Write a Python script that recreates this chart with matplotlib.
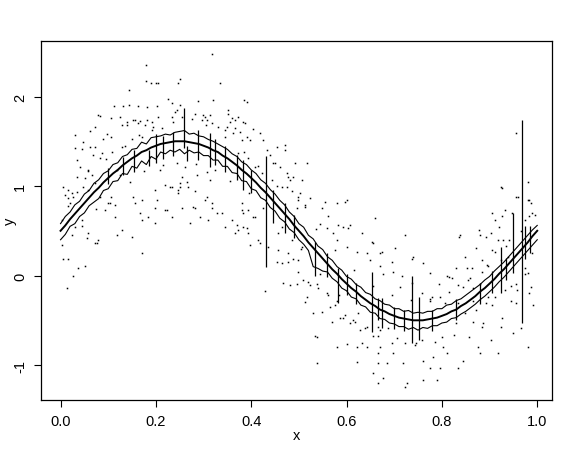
import matplotlib
matplotlib.use("Agg")
from matplotlib import pyplot as plt

plt.rcParams['font.family'] = ['Liberation Sans', 'DejaVu Sans']

# smooth curve, x step 0.01
cx = [i / 100 for i in range(101)]
cy = [0.50, 0.56, 0.63, 0.69, 0.75, 0.81, 0.87, 0.93, 0.98, 1.04,
      1.09, 1.14, 1.18, 1.23, 1.27, 1.31, 1.34, 1.38, 1.40, 1.43,
      1.45, 1.47, 1.48, 1.49, 1.50, 1.50, 1.50, 1.49, 1.48, 1.47,
      1.45, 1.43, 1.40, 1.38, 1.34, 1.31, 1.27, 1.23, 1.18, 1.14,
      1.09, 1.04, 0.98, 0.93, 0.87, 0.81, 0.75, 0.69, 0.63, 0.56,
      0.50, 0.44, 0.37, 0.31, 0.25, 0.19, 0.13, 0.07, 0.02, -0.04,
      -0.09, -0.14, -0.18, -0.23, -0.27, -0.31, -0.34, -0.38, -0.40, -0.43,
      -0.45, -0.47, -0.48, -0.49, -0.50, -0.50, -0.50, -0.49, -0.48, -0.47,
      -0.45, -0.43, -0.40, -0.38, -0.34, -0.31, -0.27, -0.23, -0.18, -0.14,
      -0.09, -0.04, 0.02, 0.07, 0.13, 0.19, 0.25, 0.31, 0.37, 0.44, 0.50]

# jagged upper / lower bands (same x grid)
upper = [0.58, 0.66, 0.71, 0.79, 0.83, 0.91, 0.95, 1.03, 1.07, 1.14,
         1.17, 1.24, 1.26, 1.33, 1.35, 1.41, 1.42, 1.49, 1.47, 1.54,
         1.55, 1.56, 1.58, 1.57, 1.60, 1.61, 1.62, 1.58, 1.59, 1.56,
         1.55, 1.52, 1.50, 1.47, 1.44, 1.41, 1.36, 1.33, 1.27, 1.24,
         1.18, 1.14, 1.07, 1.03, 0.96, 0.91, 0.84, 0.79, 0.71, 0.66,
         0.58, 0.54, 0.45, 0.41, 0.33, 0.29, 0.21, 0.17, 0.10, 0.06,
         -0.01, -0.04, -0.10, -0.13, -0.19, -0.21, -0.26, -0.28, -0.32, -0.33,
         -0.37, -0.37, -0.40, -0.39, -0.42, -0.41, -0.42, -0.40, -0.40, -0.37,
         -0.37, -0.33, -0.32, -0.28, -0.26, -0.22, -0.18, -0.14, -0.10, -0.05,
         -0.01, 0.05, 0.10, 0.15, 0.21, 0.27, 0.33, 0.39, 0.45, 0.51, 0.56]
lower = [0.40, 0.46, 0.55, 0.58, 0.66, 0.70, 0.78, 0.82, 0.86, 0.95,
         0.97, 1.05, 1.06, 1.14, 1.13, 1.22, 1.20, 1.28, 1.24, 1.33,
         1.30, 1.38, 1.36, 1.40, 1.38, 1.41, 1.36, 1.40, 1.37, 1.38,
         1.34, 1.34, 1.29, 1.29, 1.22, 1.22, 1.15, 1.14, 1.06, 1.05,
         0.97, 0.95, 0.87, 0.84, 0.76, 0.72, 0.64, 0.60, 0.52, 0.48,
         0.40, 0.35, 0.28, 0.10, 0.08, 0.05, 0.04, -0.03, -0.07, -0.14,
         -0.17, -0.24, -0.26, -0.33, -0.35, -0.41, -0.42, -0.48, -0.49, -0.53,
         -0.54, -0.57, -0.57, -0.60, -0.58, -0.61, -0.58, -0.59, -0.56, -0.56,
         -0.53, -0.52, -0.48, -0.47, -0.43, -0.40, -0.36, -0.32, -0.27, -0.23,
         -0.18, -0.13, -0.07, -0.02, 0.04, 0.10, 0.16, 0.22, 0.28, 0.34, 0.40]

# spikes in the bands
spike_x = [0.185, 0.26, 0.265, 0.288, 0.314, 0.371, 0.383, 0.432, 0.446, 0.471,
           0.534, 0.583, 0.654, 0.675, 0.738, 0.751, 0.925, 0.950, 0.969,
           0.10, 0.13, 0.155, 0.20, 0.215, 0.235, 0.325, 0.345, 0.40, 0.49,
           0.56, 0.60, 0.62, 0.665, 0.70, 0.72, 0.78, 0.83, 0.88, 0.905,
           0.935, 0.975, 0.985]
spike_lo = [1.22, 1.42, 1.28, 1.29, 1.21, 1.07, 0.96, 0.10, 0.59, 0.47,
            0.00, -0.31, -0.63, -0.59, -0.75, -0.72, -0.20, 0.03, -0.53,
            1.02, 1.12, 1.16, 1.26, 1.30, 1.33, 1.24, 1.16, 0.92, 0.42,
            -0.02, -0.22, -0.32, -0.50, -0.60, -0.62, -0.62, -0.50, -0.32, -0.20,
            -0.05, 0.18, 0.25]
spike_hi = [1.40, 1.87, 1.45, 1.63, 1.59, 1.35, 1.29, 1.34, 0.96, 0.81,
            0.37, 0.09, 0.04, -0.25, 0.00, -0.24, 0.32, 0.70, 1.74,
            1.20, 1.32, 1.40, 1.58, 1.56, 1.60, 1.53, 1.45, 1.18, 0.68,
            0.25, 0.02, -0.08, -0.25, -0.35, -0.38, -0.38, -0.26, -0.08, 0.05,
            0.20, 0.55, 0.55]

# observations
pt_x = [0.180, 0.180, 0.190, 0.200, 0.205, 0.250, 0.247, 0.144, 0.317,
        0.112, 0.131, 0.144, 0.162, 0.181, 0.202, 0.225, 0.234, 0.244, 0.250,
        0.289, 0.299, 0.307, 0.314, 0.083, 0.106, 0.125, 0.139, 0.152, 0.167, 0.181,
        0.062, 0.072, 0.089, 0.097, 0.106, 0.030, 0.045, 0.062, 0.068, 0.083,
        0.034, 0.041, 0.057, 0.009, 0.016, 0.023,
        0.083, 0.104, 0.114, 0.152, 0.167, 0.202, 0.223, 0.250, 0.278, 0.307, 0.293,
        0.209, 0.229, 0.250, 0.265, 0.286, 0.307, 0.314, 0.047, 0.057, 0.072, 0.118, 0.125,
        0.003, 0.005, 0.016, 0.037, 0.026, 0.013, 0.051, 0.055, 0.076, 0.118, 0.171, 0.198, 0.272,
        0.335, 0.384, 0.392, 0.320, 0.352, 0.356, 0.360, 0.366, 0.373, 0.383, 0.366, 0.377,
        0.350, 0.404, 0.419, 0.425, 0.391, 0.398,
        0.434, 0.440, 0.454, 0.471, 0.446, 0.461, 0.475, 0.482, 0.488, 0.475, 0.503, 0.517,
        0.499, 0.524, 0.513, 0.580, 0.601, 0.555, 0.381, 0.383, 0.394, 0.404, 0.318, 0.328,
        0.923, 0.959, 0.980, 0.986, 0.982, 0.990, 0.906, 0.927, 0.948, 0.980,
        0.366, 0.383, 0.392, 0.370, 0.398, 0.419, 0.429, 0.454, 0.465, 0.477, 0.488, 0.467,
        0.482, 0.497, 0.509, 0.524, 0.539, 0.517, 0.530, 0.539, 0.559, 0.580, 0.566, 0.593,
        0.608, 0.614, 0.629, 0.643, 0.601, 0.622, 0.643, 0.656, 0.671, 0.665, 0.539, 0.622,
        0.665, 0.656, 0.665, 0.580, 0.587,
        0.545, 0.559, 0.572, 0.593, 0.608, 0.580, 0.601, 0.622, 0.643, 0.656, 0.650, 0.671, 0.677,
        0.839, 0.881, 0.902, 0.917, 0.929, 0.912, 0.740, 0.761, 0.776, 0.811, 0.822, 0.833,
        0.845, 0.866, 0.881, 0.797, 0.776, 0.807, 0.833, 0.866, 0.896, 0.860, 0.853, 0.885,
        0.896, 0.923, 0.938, 0.980, 0.987, 0.958, 0.944, 0.992, 0.671, 0.698, 0.713,
        0.671, 0.685, 0.698, 0.719, 0.727, 0.723, 0.761, 0.782, 0.776, 0.803, 0.811, 0.833,
        0.845, 0.875, 0.902, 0.887, 0.923, 0.950, 0.965, 0.980, 0.677, 0.761, 0.790, 0.797,
        0.881, 0.917,
        0.078, 0.128, 0.139, 0.156, 0.163, 0.177, 0.192, 0.205, 0.234, 0.240,
        0.030, 0.047, 0.072, 0.087, 0.108, 0.129, 0.150, 0.171, 0.192, 0.213,
        0.016, 0.005, 0.026, 0.020, 0.051, 0.057, 0.034,
        0.093, 0.114, 0.156, 0.171, 0.198, 0.219, 0.234, 0.247, 0.183, 0.129, 0.150, 0.078,
        0.057, 0.072, 0.099, 0.198, 0.171, 0.219, 0.234, 0.255, 0.030, 0.045, 0.003,
        0.255, 0.282, 0.297, 0.303, 0.318, 0.331, 0.345, 0.362, 0.381, 0.387, 0.352, 0.373,
        0.394, 0.408, 0.423, 0.444, 0.465, 0.486, 0.499, 0.450, 0.478, 0.507, 0.471, 0.492,
        0.255, 0.268, 0.282, 0.303, 0.318, 0.339, 0.360, 0.373, 0.394, 0.415, 0.436, 0.457,
        0.478, 0.499, 0.310, 0.345, 0.282, 0.261, 0.246, 0.381, 0.408, 0.457, 0.486, 0.507,
        0.513, 0.549, 0.562, 0.583, 0.604, 0.633, 0.654, 0.675, 0.696, 0.717, 0.738, 0.759,
        0.597, 0.660, 0.702, 0.738, 0.723,
        0.499, 0.520, 0.541, 0.562, 0.576, 0.597, 0.618, 0.639, 0.667, 0.696, 0.723, 0.744,
        0.513, 0.549, 0.534, 0.633, 0.688, 0.570,
        0.955, 0.982, 0.955, 0.927, 0.912, 0.877, 0.892, 0.919, 0.906, 0.871, 0.849, 0.835,
        0.829, 0.814, 0.793, 0.780, 0.864, 0.885, 0.933, 0.975, 0.940,
        0.759, 0.801, 0.829, 0.849, 0.871, 0.892, 0.912, 0.933, 0.955, 0.975, 0.885, 0.927,
        0.856, 0.955, 0.982,
        0.015, 0.025, 0.035, 0.045, 0.065, 0.075, 0.095, 0.105, 0.135, 0.145, 0.165, 0.175,
        0.195, 0.215, 0.235, 0.245, 0.275, 0.285, 0.305, 0.325, 0.345, 0.355, 0.385, 0.395,
        0.415, 0.425, 0.455, 0.465, 0.495, 0.505, 0.535, 0.545, 0.575, 0.585, 0.615, 0.625,
        0.655, 0.665, 0.695, 0.705, 0.735, 0.745, 0.775, 0.785, 0.815, 0.825, 0.855, 0.865,
        0.895, 0.905, 0.935, 0.945, 0.965, 0.975, 0.995, 0.990]
pt_y = [2.35, 2.17, 2.15, 2.15, 2.15, 2.19, 2.15, 2.07, 2.48,
        1.89, 1.89, 1.90, 1.89, 1.88, 1.89, 1.97, 1.93, 1.85, 1.91,
        1.95, 1.79, 1.74, 1.79, 1.78, 1.76, 1.77, 1.72, 1.74, 1.73, 1.74,
        1.62, 1.66, 1.52, 1.58, 1.55, 1.43, 1.41, 1.44, 1.35, 1.31,
        1.29, 1.21, 1.17, 0.90, 0.87, 0.92,
        0.88, 0.81, 0.79, 0.88, 0.70, 0.84, 0.73, 0.99, 0.77, 0.88, 0.65,
        1.18, 0.99, 1.03, 1.04, 1.12, 1.16, 1.07, 0.99, 0.96, 1.03, 1.18, 1.12,
        0.34, 0.19, 0.19, 0.08, 0.00, -0.14, 0.11, 0.42, 0.36, 0.45, 0.25, 0.59, 0.59,
        2.15, 1.96, 1.94, 1.96, 1.80, 1.72, 1.76, 1.74, 1.77, 1.72, 1.65, 1.60,
        1.66, 1.64, 1.59, 1.51, 1.55, 1.51,
        1.40, 1.35, 1.44, 1.46, 1.26, 1.21, 1.14, 1.07, 1.10, 0.99, 0.92, 1.26,
        0.88, 0.87, 0.77, 0.81, 0.84, 0.82, 0.81, 0.70, 0.73, 0.65, 0.81, 0.70,
        0.99, 0.88, 0.84, 0.81, 0.67, 0.70, 0.70, 0.66, 0.70, 1.04,
        0.47, 0.54, 0.53, 0.56, 0.34, 0.36, -0.17, 0.15, 0.14, 0.15, 0.19, -0.08,
        -0.11, -0.09, -0.05, -0.11, -0.09, -0.24, -0.42, -0.69, -0.19, -0.28, -0.35, -0.47,
        -0.53, -0.50, -0.61, -0.58, -0.76, -0.80, -0.80, -0.67, -0.61, -0.87, -0.98, -0.97,
        -0.98, -1.09, -1.20, -0.80, -0.47,
        0.58, 0.53, 0.47, 0.54, 0.56, 0.40, 0.32, 0.26, 0.25, 0.36, 0.17, 0.11, 0.02,
        0.45, 0.45, 0.47, 0.40, 0.40, 0.26, 0.21, 0.14, 0.03, 0.00, -0.03, -0.11,
        -0.13, -0.14, -0.09, -0.24, -0.28, -0.31, -0.31, -0.28, -0.24, -0.03, 0.09, 0.04,
        0.11, 0.17, 0.21, 0.03, -0.13, -0.16, -0.28, -0.33, 0.25, 0.04, -0.13,
        -0.80, -0.98, -0.87, -0.98, -1.20, -1.25, -0.95, -0.91, -1.03, -0.80, -0.87, -1.03,
        -0.95, -0.80, -0.72, -0.53, -0.58, -0.64, -0.59, -0.80, -1.14, -1.17, -1.17, -1.03,
        -0.87, -0.87,
        1.79, 1.68, 1.68, 1.74, 1.70, 1.68, 1.72, 1.77, 1.77, 1.83,
        1.57, 1.49, 1.44, 1.37, 1.38, 1.44, 1.52, 1.55, 1.63, 1.65,
        0.96, 0.99, 0.88, 0.81, 1.09, 1.18, 1.10,
        0.73, 0.65, 0.81, 0.84, 0.96, 1.01, 0.99, 0.96, 0.65, 0.51, 0.43, 0.40,
        0.47, 0.36, 0.81, 0.76, 0.62, 0.73, 0.65, 0.76, 0.54, 0.62, 0.62,
        1.77, 1.80, 1.74, 1.77, 1.70, 1.66, 1.63, 1.59, 1.51, 1.70, 1.85, 1.37,
        1.31, 1.21, 1.14, 1.07, 0.99, 0.95, 0.84, 1.26, 1.10, 1.07, 1.40, 1.26,
        1.10, 0.99, 0.95, 0.84, 0.76, 0.70, 0.62, 0.51, 0.47, 0.40, 0.32, 0.28,
        0.25, 0.17, 0.62, 0.54, 0.76, 1.21, 0.92, 0.73, 0.65, 0.47, 0.40, 0.32,
        0.79, 0.75, 0.67, 0.56, 0.53, 0.48, 0.37, 0.26, 0.15, 0.00, -0.08, -0.19,
        0.82, 0.64, 0.31, 0.19, 0.45,
        0.04, -0.07, -0.14, -0.22, -0.33, -0.44, -0.52, -0.59, -0.67, -0.75, -0.75, -0.78,
        -0.30, -0.41, -0.67, -0.75, -0.59, -0.52,
        1.59, 0.84, 0.88, 0.98, 0.62, 0.51, 0.43, 0.54, 0.28, 0.31, 0.21, 0.43,
        0.09, -0.02, -0.09, -0.24, 0.09, 0.17, 0.73, 0.62, 0.40,
        -0.72, -0.69, -0.53, -0.42, -0.39, -0.31, -0.24, -0.16, -0.09, 0.02, -0.58, -0.47,
        -0.69, -0.31, -0.20,
        0.78, 0.45, 0.93, 0.55, 1.12, 0.74, 1.30, 0.88, 1.45, 1.05, 1.57, 1.17,
        1.66, 1.24, 1.72, 1.26, 1.75, 1.25, 1.68, 1.18, 1.55, 1.06, 1.38, 0.92,
        1.22, 0.75, 1.00, 0.54, 0.76, 0.30, 0.52, 0.02, 0.28, -0.22, 0.06, -0.42,
        -0.12, -0.58, -0.22, -0.70, -0.27, -0.75, -0.26, -0.74, -0.18, -0.66, -0.05, -0.52,
        0.12, -0.33, 0.33, -0.12, 0.50, 0.08, 0.68, 0.25]

fig = plt.figure(figsize=(5.72, 4.52), dpi=100)
ax = fig.add_axes([41 / 572, 1 - 401 / 452, 511 / 572, 359 / 452])

ax.plot(pt_x, pt_y, linestyle='none', marker='s', markersize=1.1,
        markeredgewidth=0, color='black')
ax.plot(cx, upper, color='black', linewidth=0.8)
ax.plot(cx, lower, color='black', linewidth=0.8)
ax.vlines(spike_x, spike_lo, spike_hi, color='black', linewidth=0.9)
ax.plot(cx, cy, color='black', linewidth=1.4)

ax.set_xlim(-0.041, 1.031)
ax.set_ylim(-1.39, 2.62)
ax.set_xticks([0.0, 0.2, 0.4, 0.6, 0.8, 1.0])
ax.set_xticklabels(['0.0', '0.2', '0.4', '0.6', '0.8', '1.0'])
ax.set_yticks([-1, 0, 1, 2])
ax.set_yticklabels(['-1', '0', '1', '2'], rotation=90, va='center')
ax.tick_params(direction='out', length=5, width=0.8, labelsize=10.5, pad=5)
ax.tick_params(axis='y', pad=5)
for s in ax.spines.values():
    s.set_linewidth(0.9)

ax.set_xlabel('x', fontsize=10.5, va='center')
ax.set_ylabel('y', fontsize=10.5, va='center')
ax.xaxis.set_label_coords(0.5, -0.097)
ax.yaxis.set_label_coords(-0.061, 0.5)

fig.savefig('out.png', dpi=100)
